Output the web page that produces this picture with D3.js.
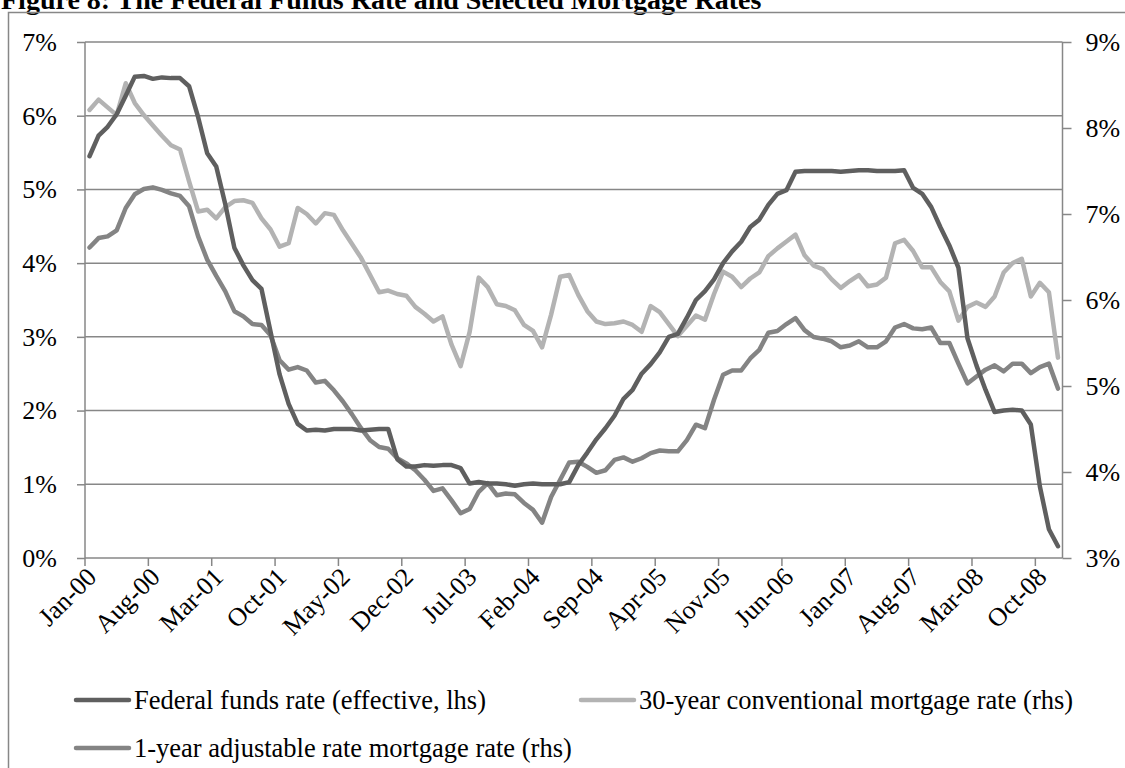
<!DOCTYPE html>
<html>
<head>
<meta charset="utf-8">
<script src="https://cdn.jsdelivr.net/npm/d3@7"></script>
<style>
  html, body { margin: 0; padding: 0; background: #fff; }
  svg { display: block; }
  text { font-family: "Liberation Serif", "Times New Roman", serif; fill: #000; }
</style>
</head>
<body>
<svg id="chart" width="1125" height="768"></svg>
<script>
// ---- Data ----
const startMonth = new Date(2000, 0, 1);
const months = d3.timeMonth.range(startMonth, new Date(2009, 0, 1)); // Jan-00 .. Dec-08 (108 months)
const tickLabels = ["Jan-00","Aug-00","Mar-01","Oct-01","May-02","Dec-02","Jul-03","Feb-04",
  "Sep-04","Apr-05","Nov-05","Jun-06","Jan-07","Aug-07","Mar-08","Oct-08"];
const leftTicks = [0, 1, 2, 3, 4, 5, 6, 7];
const rightTicks = [3, 4, 5, 6, 7, 8, 9];

const fedFunds = [
  5.45, 5.73, 5.85, 6.02, 6.27, 6.53, 6.54, 6.50, 6.52, 6.51, 6.51, 6.40,
  5.98, 5.49, 5.31, 4.80, 4.21, 3.97, 3.77, 3.65, 3.07, 2.49, 2.09, 1.82,
  1.73, 1.74, 1.73, 1.75, 1.75, 1.75, 1.73, 1.74, 1.75, 1.75, 1.34, 1.24,
  1.24, 1.26, 1.25, 1.26, 1.26, 1.22, 1.01, 1.03, 1.01, 1.01, 1.00, 0.98,
  1.00, 1.01, 1.00, 1.00, 1.00, 1.03, 1.26, 1.43, 1.61, 1.76, 1.93, 2.16,
  2.28, 2.50, 2.63, 2.79, 3.00, 3.04, 3.26, 3.50, 3.62, 3.78, 4.00, 4.16,
  4.29, 4.49, 4.59, 4.79, 4.94, 4.99, 5.24, 5.25, 5.25, 5.25, 5.25, 5.24,
  5.25, 5.26, 5.26, 5.25, 5.25, 5.25, 5.26, 5.02, 4.94, 4.76, 4.49, 4.24,
  3.94, 2.98, 2.61, 2.28, 1.98, 2.00, 2.01, 2.00, 1.81, 0.97, 0.39, 0.16
];
const mortgage30 = [
  8.21, 8.33, 8.24, 8.15, 8.52, 8.29, 8.15, 8.03, 7.91, 7.80, 7.75, 7.38,
  7.03, 7.05, 6.95, 7.08, 7.15, 7.16, 7.13, 6.95, 6.82, 6.62, 6.66, 7.07,
  7.00, 6.89, 7.01, 6.99, 6.81, 6.65, 6.49, 6.29, 6.09, 6.11, 6.07, 6.05,
  5.92, 5.84, 5.75, 5.81, 5.48, 5.23, 5.63, 6.26, 6.15, 5.95, 5.93, 5.88,
  5.71, 5.64, 5.45, 5.83, 6.27, 6.29, 6.06, 5.87, 5.75, 5.72, 5.73, 5.75,
  5.71, 5.63, 5.93, 5.86, 5.72, 5.58, 5.70, 5.82, 5.77, 6.07, 6.33, 6.27,
  6.15, 6.25, 6.32, 6.51, 6.60, 6.68, 6.76, 6.52, 6.40, 6.36, 6.24, 6.14,
  6.22, 6.29, 6.16, 6.18, 6.26, 6.66, 6.70, 6.57, 6.38, 6.38, 6.21, 6.10,
  5.76, 5.92, 5.97, 5.92, 6.04, 6.32, 6.43, 6.48, 6.04, 6.20, 6.09, 5.33
];
const arm1 = [
  6.61, 6.72, 6.74, 6.81, 7.07, 7.23, 7.29, 7.31, 7.28, 7.24, 7.21, 7.09,
  6.74, 6.47, 6.28, 6.10, 5.87, 5.81, 5.72, 5.71, 5.59, 5.30, 5.19, 5.22,
  5.18, 5.04, 5.06, 4.95, 4.82, 4.67, 4.51, 4.37, 4.29, 4.27, 4.16, 4.10,
  4.02, 3.91, 3.78, 3.81, 3.67, 3.52, 3.57, 3.77, 3.87, 3.73, 3.75, 3.74,
  3.64, 3.56, 3.41, 3.71, 3.91, 4.11, 4.12, 4.06, 3.99, 4.02, 4.14, 4.17,
  4.12, 4.16, 4.22, 4.25, 4.24, 4.24, 4.37, 4.55, 4.51, 4.84, 5.13, 5.18,
  5.18, 5.32, 5.42, 5.62, 5.64, 5.72, 5.79, 5.65, 5.57, 5.55, 5.52, 5.45,
  5.47, 5.52, 5.45, 5.45, 5.52, 5.68, 5.72, 5.67, 5.66, 5.68, 5.50, 5.50,
  5.26, 5.03, 5.11, 5.19, 5.24, 5.17, 5.26, 5.26, 5.15, 5.22, 5.26, 4.97
];
const seriesNames = ["Federal funds rate (effective, lhs)",
  "30-year conventional mortgage rate (rhs)",
  "1-year adjustable rate mortgage rate (rhs)"];

// ---- Layout ----
const svg = d3.select("#chart");
const L = 85, R = 1062.5, T = 42, B = 558;
const fmt = d3.timeFormat("%b-%y");
const x = d3.scaleBand().domain(months.map(fmt)).range([L, R]).paddingInner(0).paddingOuter(0);
const yL = d3.scaleLinear().domain([0, 7]).range([B, T]);
const yR = d3.scaleLinear().domain([3, 9]).range([B, T]);
const axisColor = "#878787";
const FS = 26;
const LFS = 26.5;

// Title
svg.append("text").attr("x", 1).attr("y", 9)
  .style("font-size", "28px").style("font-weight", "bold")
  .text("Figure 8: The Federal Funds Rate and Selected Mortgage Rates");

// Chart frame
svg.append("rect").attr("x", 8.5).attr("y", 12.5).attr("width", 1200).attr("height", 900)
  .attr("fill", "none").attr("stroke", axisColor).attr("stroke-width", 1.5);

// Gridlines
svg.append("g").selectAll("line").data(leftTicks.filter(d => d > 0)).join("line")
  .attr("x1", L).attr("x2", R).attr("y1", d => yL(d)).attr("y2", d => yL(d))
  .attr("stroke", axisColor).attr("stroke-width", 1.5);

// Left axis
const gL = svg.append("g").attr("transform", `translate(${L},0)`)
  .call(d3.axisLeft(yL).tickValues(leftTicks).tickSize(8).tickPadding(20).tickFormat(d => d + "%"));
// Right axis
const gR = svg.append("g").attr("transform", `translate(${R},0)`)
  .call(d3.axisRight(yR).tickValues(rightTicks).tickSize(9).tickPadding(14).tickFormat(d => d + "%"));
// Bottom axis (ticks at category boundaries every 7 months)
const tickIdx = d3.range(0, months.length, 7);
const gB = svg.append("g").attr("transform", `translate(0,${B})`);
gB.append("line").attr("x1", L).attr("x2", R).attr("y1", 0).attr("y2", 0)
  .attr("stroke", axisColor).attr("stroke-width", 1.5);
gB.selectAll("line.tk").data(tickIdx).join("line").attr("class", "tk")
  .attr("x1", i => x(x.domain()[i])).attr("x2", i => x(x.domain()[i]))
  .attr("y1", 0).attr("y2", 8).attr("stroke", axisColor).attr("stroke-width", 1.5);
gB.selectAll("text").data(tickIdx).join("text")
  .attr("transform", (i, k) => `translate(${x(x.domain()[i]) + x.bandwidth() / 2 + 2},14) rotate(-45)`)
  .attr("text-anchor", "end").attr("dy", "0.35em")
  .style("font-size", FS + "px")
  .text((i, k) => tickLabels[k]);

[gL, gR].forEach(g => {
  g.select(".domain").attr("stroke", axisColor).attr("stroke-width", 1.5);
  g.selectAll(".tick line").attr("stroke", axisColor).attr("stroke-width", 1.5);
  g.selectAll(".tick text").style("font-size", FS + "px")
    .style("font-family", '"Liberation Serif", "Times New Roman", serif').attr("fill", "#000");
});
gR.select(".domain").attr("d", `M0,${T}V${B}`);
gL.select(".domain").attr("d", `M0,${T}V${B}`);

// Lines
const colors = ["#5f5f5f", "#b3b3b3", "#848484"];
const cx = (d, i) => x(x.domain()[i]) + x.bandwidth() / 2;
const lineL = d3.line().x(cx).y(d => yL(d));
const lineR = d3.line().x(cx).y(d => yR(d));
const g = svg.append("g").attr("fill", "none").attr("stroke-width", 4.5).attr("stroke-linejoin", "round").attr("stroke-linecap", "round");
g.append("path").datum(mortgage30).attr("d", lineR).attr("stroke", colors[1]);
g.append("path").datum(arm1).attr("d", lineR).attr("stroke", colors[2]);
g.append("path").datum(fedFunds).attr("d", lineL).attr("stroke", colors[0]);

// Legend
const legendItems = [
  { name: seriesNames[0], color: colors[0], x: 76, y: 700 },
  { name: seriesNames[1], color: colors[1], x: 581, y: 700 },
  { name: seriesNames[2], color: colors[2], x: 76, y: 748 }
];
const lg = svg.append("g").selectAll("g").data(legendItems).join("g")
  .attr("transform", d => `translate(${d.x},${d.y})`);
lg.append("line").attr("x1", 0).attr("x2", 53).attr("y1", 0).attr("y2", 0)
  .attr("stroke", d => d.color).attr("stroke-width", 4.5).attr("stroke-linecap", "round");
lg.append("text").attr("x", 58).attr("dy", "0.33em").style("font-size", LFS + "px").text(d => d.name);
</script>
</body>
</html>
